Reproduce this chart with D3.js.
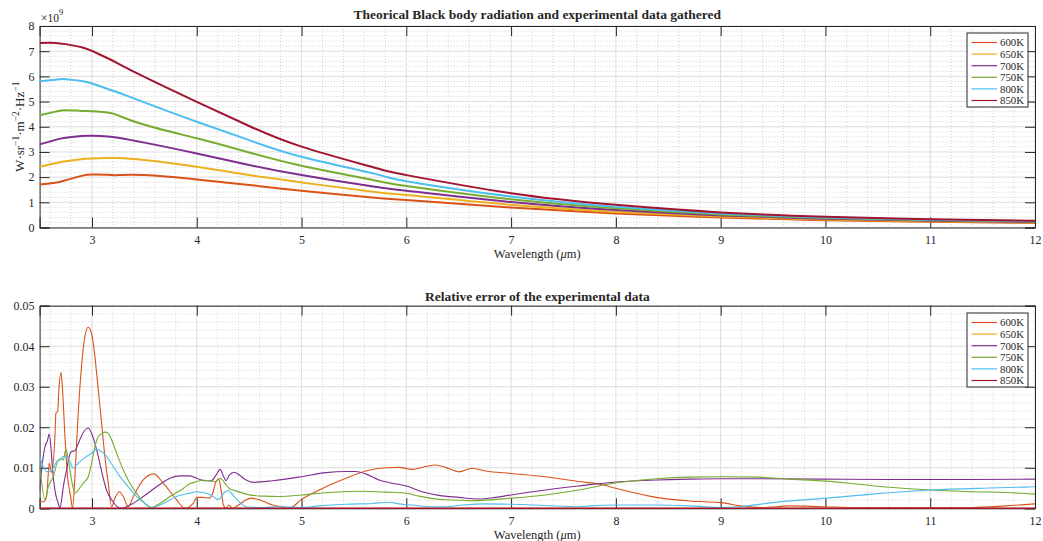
<!DOCTYPE html>
<html><head><meta charset="utf-8">
<script src="https://cdn.jsdelivr.net/npm/d3@7"></script>
<style>body{margin:0;background:#fff} text{font-family:"Liberation Serif","Times New Roman",serif;fill:#262626}</style>
</head><body><svg id="c" width="1043" height="541"></svg>
<script>
// ---------- data ----------
const temps = ["600K","650K","700K","750K","800K","850K"];
const colors = ["#D95319","#EDB120","#7E2F8E","#77AC30","#4DBEEE","#A2142F"];
const xTicks = [3,4,5,6,7,8,9,10,11,12];
const yTicksTop = [0,1,2,3,4,5,6,7,8];
const yTicksBottom = [0,0.01,0.02,0.03,0.04,0.05];

// top panel: spectral radiance (x1e9)
const lambdaTop = [2.5,2.65,2.75,2.9,3,3.15,3.25,3.5,4,4.5,5,5.7,6,7,8,9,10,11,12];
const rad600 = [1.71,1.78,1.88,2.05,2.10,2.09,2.08,2.08,1.91,1.69,1.46,1.18,1.09,0.79,0.56,0.40,0.29,0.23,0.18];
const rad650 = [2.41,2.55,2.63,2.71,2.74,2.76,2.76,2.68,2.41,2.08,1.79,1.41,1.29,0.90,0.62,0.44,0.32,0.25,0.20];
const rad700 = [3.30,3.48,3.56,3.63,3.64,3.61,3.56,3.37,2.94,2.48,2.08,1.62,1.46,1.01,0.69,0.48,0.35,0.27,0.22];
const rad750 = [4.46,4.60,4.66,4.63,4.62,4.57,4.45,4.08,3.54,2.98,2.45,1.87,1.65,1.12,0.76,0.52,0.38,0.29,0.24];
const rad800 = [5.81,5.87,5.89,5.82,5.72,5.50,5.36,4.97,4.20,3.47,2.81,2.13,1.84,1.23,0.82,0.56,0.40,0.31,0.25];
const rad850 = [7.33,7.33,7.28,7.16,7.01,6.72,6.51,5.98,4.99,4.03,3.21,2.37,2.08,1.36,0.90,0.60,0.43,0.33,0.27];

// bottom panel: relative error
const errL600 = [2.5,2.535,2.567,2.592,2.615,2.646,2.656,2.672,2.684,2.704,2.719,2.742,2.767,2.796,2.815,2.837,2.863,2.9,2.932,2.964,2.996,3.028,3.06,3.092,3.123,3.155,3.187,3.219,3.26,3.298,3.346,3.394,3.489,3.591,3.68,3.807,3.887,3.966,4.0,4.057,4.121,4.152,4.184,4.21,4.232,4.254,4.279,4.305,4.343,4.375,4.422,4.47,4.517,4.597,4.724,4.851,4.883,5.0,5.168,5.422,5.613,5.803,5.93,6.057,6.184,6.279,6.375,6.502,6.629,6.756,7.0,7.327,7.644,7.835,8.006,8.387,8.705,9.006,9.181,9.403,9.657,9.975,10.292,10.61,10.927,11.403,11.721,12.0];
const err600 = [0.0016,0.0016,0.0029,0.0111,0.0088,0.0177,0.0235,0.0239,0.0292,0.0335,0.0292,0.0177,0.0078,0.0029,0,0.0078,0.021,0.035,0.0424,0.0447,0.0432,0.0374,0.0292,0.021,0.0128,0.0062,0.0004,0.0025,0.0041,0.0029,0.0004,0.0029,0.007,0.0085,0.0062,0.0021,0,0.0012,0.0027,0.0027,0.0025,0.0037,0.0066,0.0072,0.0045,0.0008,0,0.0008,0,0.0004,0.0012,0.0021,0.0025,0.0021,0.0008,0.0002,0,0.0022,0.0045,0.0074,0.0092,0.01,0.0101,0.0096,0.0103,0.0107,0.0101,0.009,0.0099,0.0092,0.0086,0.0078,0.0066,0.006,0.0049,0.0027,0.0018,0.0014,0.0006,0.0002,0.0006,0.0004,0.0002,0.0002,0.0002,0.0002,0.0006,0.0011];
const errL650 = [2.5,5,8,12];
const err650 = [0,0,0,0];
const errL700 = [2.5,2.535,2.551,2.573,2.592,2.608,2.624,2.646,2.678,2.694,2.71,2.726,2.758,2.783,2.805,2.837,2.869,2.917,2.964,2.996,3.028,3.06,3.092,3.139,3.187,3.241,3.282,3.362,3.489,3.616,3.744,3.839,3.93,4.0,4.073,4.137,4.184,4.222,4.257,4.279,4.311,4.359,4.406,4.47,4.533,4.724,5.0,5.232,5.422,5.517,5.613,5.74,5.867,6.0,6.152,6.311,6.502,6.692,6.851,7.0,7.327,7.644,8.006,8.387,8.705,9.006,9.34,9.975,10.61,11.403,12.0];
const err700 = [0.0045,0.0128,0.0152,0.0165,0.0183,0.0152,0.0095,0.0045,0.0012,0,0.0021,0.0053,0.0095,0.0128,0.014,0.0142,0.016,0.0187,0.0198,0.0185,0.016,0.0128,0.0091,0.0045,0.0021,0.0004,0,0.0008,0.0029,0.0053,0.0074,0.008,0.008,0.0074,0.0068,0.0068,0.0082,0.0096,0.0078,0.0068,0.0082,0.0089,0.0082,0.007,0.0064,0.0068,0.0078,0.0088,0.0091,0.0091,0.0085,0.007,0.0062,0.0055,0.0041,0.0032,0.0027,0.0023,0.0027,0.0033,0.0045,0.0055,0.0065,0.007,0.0072,0.0073,0.0073,0.0072,0.0071,0.0071,0.0072];
const errL750 = [2.5,2.551,2.583,2.63,2.678,2.71,2.726,2.751,2.774,2.805,2.837,2.869,2.917,2.964,2.996,3.028,3.06,3.092,3.123,3.155,3.187,3.235,3.298,3.362,3.426,3.505,3.569,3.648,3.744,3.871,3.93,4.0,4.057,4.137,4.184,4.222,4.279,4.311,4.375,4.47,4.629,4.787,5.0,5.263,5.581,5.803,6.0,6.121,6.375,6.629,7.0,7.327,7.644,8.006,8.387,8.705,9.006,9.34,9.657,10.006,10.292,10.61,11.006,11.403,11.721,12.0];
const err750 = [0.0111,0.0021,0.0053,0.0078,0.0119,0.0123,0.0119,0.0146,0.0119,0.007,0.0037,0.0045,0.0062,0.0078,0.0111,0.0152,0.0177,0.0184,0.0188,0.0185,0.0169,0.0136,0.0095,0.0062,0.0037,0.0012,0.0002,0.0012,0.0029,0.0049,0.006,0.0066,0.007,0.0067,0.0066,0.0074,0.0058,0.0049,0.0043,0.0035,0.003,0.0029,0.0033,0.0039,0.0042,0.004,0.0037,0.003,0.0021,0.0019,0.0025,0.0033,0.0045,0.0063,0.0073,0.0077,0.0078,0.0077,0.0072,0.0067,0.006,0.0052,0.0045,0.0041,0.0039,0.0035];
const errL800 = [2.5,2.535,2.567,2.599,2.63,2.662,2.694,2.726,2.758,2.783,2.821,2.853,2.901,2.948,2.996,3.044,3.092,3.139,3.203,3.267,3.346,3.426,3.505,3.569,3.601,3.68,3.807,3.93,4.0,4.089,4.152,4.2,4.232,4.263,4.305,4.343,4.406,4.47,4.629,4.787,5.0,5.168,5.422,5.676,5.835,5.93,6.057,6.248,6.375,6.533,6.756,7.0,7.327,7.644,7.752,8.006,8.387,8.705,9.006,9.181,9.498,10.006,10.451,11.006,11.562,12.0];
const err800 = [0.0128,0.0103,0.0091,0.0091,0.0099,0.0115,0.0119,0.0128,0.0128,0.0119,0.0099,0.0107,0.0119,0.0128,0.0136,0.0146,0.014,0.0128,0.0103,0.0078,0.0053,0.0029,0.0012,0.0002,0.0004,0.0012,0.0029,0.0037,0.0041,0.0037,0.003,0.0022,0.0027,0.0039,0.0044,0.0033,0.0016,0.0004,0.0002,0.0004,0.0002,0.0006,0.001,0.0012,0.0015,0.0011,0.0008,0.0004,0.0004,0.0008,0.0011,0.001,0.0007,0.0004,0.0006,0.0008,0.0008,0.0006,0.0002,0.0004,0.0014,0.0025,0.0035,0.0045,0.005,0.0053];
const errL850 = [2.5,5,8,12];
const err850 = [0,0,0,0];

// ---------- drawing ----------
const svg = d3.select('#c');
const L = 39.6, R = 1035;
const x = d3.scaleLinear().domain([2.5,12]).range([L,R]);

const radSeries = [rad600,rad650,rad700,rad750,rad800,rad850];
const errSeries = [[errL600,err600],[errL650,err650],[errL700,err700],[errL750,err750],[errL800,err800],[errL850,err850]];

function panel(id, top, bot, yDomain, yTicks, minorStep, fmt, title, titleY) {
  const y = d3.scaleLinear().domain(yDomain).range([bot, top]);
  const g = svg.append('g');
  const major = yTicks[1] - yTicks[0];
  const xMinor = d3.range(2.6, 12, 0.2).filter(v => Math.abs(v - Math.round(v)) > 1e-6);
  const yMinor = d3.range(yDomain[0] + minorStep, yDomain[1], minorStep)
    .filter(v => Math.abs(v / major - Math.round(v / major)) > 1e-6);
  g.selectAll('.mx').data(xMinor).join('line')
    .attr('x1', d => x(d)).attr('x2', d => x(d)).attr('y1', top).attr('y2', bot)
    .attr('stroke', '#c8c8c8').attr('stroke-width', 0.8).attr('stroke-dasharray', '1,2');
  g.selectAll('.my').data(yMinor).join('line')
    .attr('y1', d => y(d)).attr('y2', d => y(d)).attr('x1', L).attr('x2', R)
    .attr('stroke', '#c8c8c8').attr('stroke-width', 0.8).attr('stroke-dasharray', '1,2');
  g.selectAll('.gx').data(xTicks).join('line')
    .attr('x1', d => x(d)).attr('x2', d => x(d)).attr('y1', top).attr('y2', bot)
    .attr('stroke', '#dcdcdc').attr('stroke-width', 1);
  g.selectAll('.gy').data(yTicks).join('line')
    .attr('y1', d => y(d)).attr('y2', d => y(d)).attr('x1', L).attr('x2', R)
    .attr('stroke', '#dcdcdc').attr('stroke-width', 1);
  const tl = 10;
  g.append('g').attr('transform', `translate(0,${bot})`)
    .call(d3.axisBottom(x).tickValues(xTicks).tickSize(-tl).tickPadding(8).tickFormat(d3.format('d')));
  g.append('g').attr('transform', `translate(0,${top})`)
    .call(d3.axisTop(x).tickValues(xTicks).tickSize(-tl).tickFormat(''));
  g.append('g').attr('transform', `translate(${L},0)`)
    .call(d3.axisLeft(y).tickValues(yTicks).tickSize(-tl).tickPadding(5).tickFormat(fmt));
  g.append('g').attr('transform', `translate(${R},0)`)
    .call(d3.axisRight(y).tickValues(yTicks).tickSize(-tl).tickFormat(''));
  g.selectAll('.domain').attr('stroke', '#262626').attr('stroke-width', 1);
  g.selectAll('.tick line').attr('stroke', '#262626').attr('stroke-width', 1);
  g.selectAll('.tick text').attr('font-size', 12).attr('fill', '#262626')
    .attr('font-family', '"Liberation Serif",serif');
  svg.append('text').attr('x', (L + R) / 2).attr('y', titleY).attr('text-anchor', 'middle')
    .attr('font-size', 13.5).attr('font-weight', 'bold').attr('fill', '#000').text(title);
  const xl = svg.append('text').attr('x', (L + R) / 2).attr('y', bot + 30.5)
    .attr('text-anchor', 'middle').attr('font-size', 12.5);
  xl.append('tspan').text('Wavelength (');
  xl.append('tspan').attr('font-style', 'italic').text('μ');
  xl.append('tspan').text('m)');
  svg.append('clipPath').attr('id', 'clip' + id).append('rect')
    .attr('x', L).attr('y', top).attr('width', R - L).attr('height', bot - top + 1);
  return y;
}

function legend(top) {
  const lg = svg.append('g').attr('transform', `translate(967,${top})`);
  lg.append('rect').attr('x', 0).attr('y', 0).attr('width', 61).attr('height', 74)
    .attr('fill', '#fff').attr('stroke', '#262626').attr('stroke-width', 1);
  temps.forEach((t, i) => {
    const yy = 9.5 + i * 11.6;
    lg.append('line').attr('x1', 4.5).attr('x2', 30).attr('y1', yy).attr('y2', yy)
      .attr('stroke', colors[i]).attr('stroke-width', 1.2);
    lg.append('text').attr('x', 33).attr('y', yy + 3.8).attr('font-size', 10.8).attr('fill', '#000').text(t);
  });
}

// top panel
const y1 = panel(1, 26, 227.5, [0, 8], yTicksTop, 0.2, d3.format('d'),
  'Theorical Black body radiation and experimental data gathered', 19);
const lineTop = d3.line().x((d, i) => x(lambdaTop[i])).y(d => y1(d)).curve(d3.curveNatural);
const gTop = svg.append('g').attr('clip-path', 'url(#clip1)');
radSeries.forEach((s, i) => {
  gTop.append('path').attr('d', lineTop(s)).attr('fill', 'none')
    .attr('stroke', colors[i]).attr('stroke-width', 2);
});
const ex = svg.append('text').attr('x', 41).attr('y', 22).attr('font-size', 11.5);
ex.append('tspan').text('×10');
ex.append('tspan').attr('dy', -7).attr('font-size', 8.5).text('9');
const yl = svg.append('text').attr('transform', `translate(24,${(26 + 227.5) / 2}) rotate(-90)`)
  .attr('text-anchor', 'middle').attr('font-size', 13);
[['W·sr', 0], ['−1', 1], ['·m', 0], ['−2', 1], ['·Hz', 0], ['−1', 1]].forEach(([t, sup], k) => {
  const ts = yl.append('tspan').text(t);
  if (sup) ts.attr('dy', -5.5).attr('font-size', 9.5);
  else if (k > 0) ts.attr('dy', 5.5);
});
legend(33);

// bottom panel
const y2 = panel(2, 305.7, 508.3, [0, 0.05], yTicksBottom, 0.002,
  d => d === 0 ? '0' : d3.format('.2f')(d), 'Relative error of the experimental data', 301);
const gBot = svg.append('g').attr('clip-path', 'url(#clip2)');
errSeries.forEach(([ls, vs], i) => {
  const line = d3.line().x((d, k) => x(ls[k])).y(d => y2(d)).curve(d3.curveMonotoneX);
  gBot.append('path').attr('d', line(vs)).attr('fill', 'none')
    .attr('stroke', colors[i]).attr('stroke-width', i === 5 ? 1.6 : 1.1);
});
legend(313);
</script></body></html>
